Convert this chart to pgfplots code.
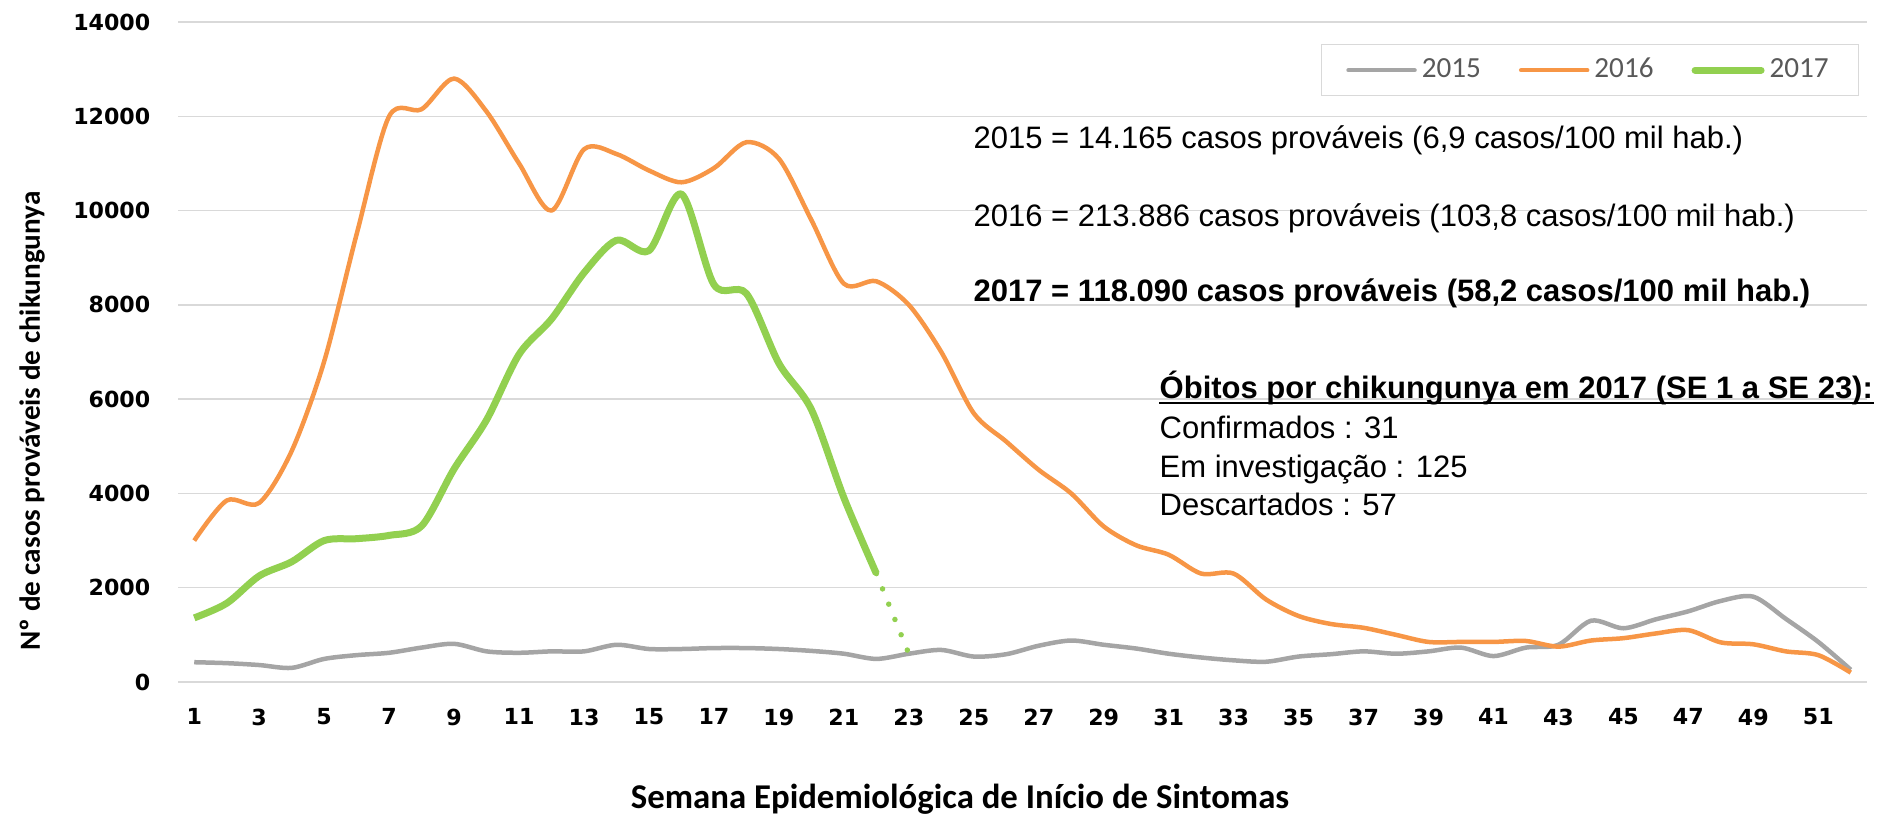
\documentclass[border=0pt]{standalone}
\usepackage{fontspec}
\setmainfont{Liberation Sans}
\newfontfamily\tickfont{DejaVu Sans}
\newfontfamily\calib{Carlito}
\usepackage{pgfplots}
\pgfplotsset{compat=1.18}

\definecolor{c15}{RGB}{165,165,165}
\definecolor{c16}{RGB}{247,150,70}
\definecolor{c17}{RGB}{146,208,80}
\definecolor{gridc}{RGB}{217,217,217}
\definecolor{legtxt}{RGB}{89,89,89}

\begin{document}
\begin{tikzpicture}
\useasboundingbox (0,0) rectangle (18.97,-8.14);
\begin{axis}[
  at={(1.78cm,-6.82cm)}, anchor=south west,
  scale only axis, width=16.89cm, height=6.60cm,
  xmin=0.5, xmax=52.5, ymin=0, ymax=14000,
  scaled y ticks=false,
  xtick={1,3,...,51},
  xticklabels={1,3,5,7,9,11,13,15,17,19,21,23,25,27,29,31,33,35,37,39,41,43,45,47,49,51},
  ytick={0,2000,4000,6000,8000,10000,12000,14000},
  yticklabels={0,2000,4000,6000,8000,10000,12000,14000},
  ymajorgrids, major grid style={gridc, line width=0.015cm},
  axis line style={draw=none}, major tick length=0pt,
  tick label style={font=\tickfont\bfseries\fontsize{6.3}{7}\selectfont, inner sep=0pt},
  yticklabel style={anchor=east, xshift=-0.27cm},
  xticklabel style={anchor=north, yshift=-0.26cm},
  legend style={at={(0.836,0.927)}, anchor=center, draw=gridc,
    font=\calib\fontsize{8.3}{10}\selectfont, text=legtxt,
    inner xsep=0.25cm, inner ysep=0.08cm,
    /tikz/every even column/.append style={column sep=0.33cm},
    nodes={inner sep=0.05cm}},
  legend columns=3,
  legend image code/.code={\draw[#1, line cap=round] (0cm,0cm) -- (0.66cm,0cm);},
]
% 2015
\addplot[c15, line width=0.045cm, smooth, line join=round] coordinates {
(1,420)(2,400)(3,360)(4,300)(5,490)(6,570)(7,620)(8,730)(9,810)(10,650)
(11,620)(12,650)(13,650)(14,790)(15,700)(16,700)(17,720)(18,720)(19,700)(20,660)
(21,600)(22,490)(23,600)(24,680)(25,540)(26,590)(27,770)(28,880)(29,790)(30,710)
(31,600)(32,520)(33,460)(34,430)(35,540)(36,590)(37,650)(38,600)(39,650)(40,730)
(41,550)(42,730)(43,790)(44,1300)(45,1140)(46,1330)(47,1500)(48,1720)(49,1810)(50,1340)
(51,850)(52,260)};
\addlegendentry{2015}
% 2016
\addplot[c16, line width=0.045cm, smooth, line join=round] coordinates {
(1,3000)(2,3850)(3,3800)(4,4900)(5,6800)(6,9500)(7,12000)(8,12150)(9,12800)(10,12100)
(11,11000)(12,10000)(13,11300)(14,11200)(15,10850)(16,10600)(17,10900)(18,11450)(19,11100)(20,9800)
(21,8450)(22,8500)(23,8000)(24,7000)(25,5700)(26,5100)(27,4500)(28,4000)(29,3300)(30,2900)
(31,2700)(32,2300)(33,2300)(34,1750)(35,1400)(36,1230)(37,1150)(38,1000)(39,850)(40,850)
(41,850)(42,870)(43,750)(44,880)(45,930)(46,1030)(47,1100)(48,840)(49,800)(50,650)
(51,570)(52,200)};
\addlegendentry{2016}
% 2017
\addplot[c17, line width=0.07cm, smooth, line join=round] coordinates {
(1,1360)(2,1670)(3,2250)(4,2550)(5,3000)(6,3040)(7,3110)(8,3310)(9,4520)(10,5560)
(11,6950)(12,7700)(13,8680)(14,9370)(15,9150)(16,10350)(17,8430)(18,8240)(19,6760)(20,5780)
(21,3910)(22,2300)};
\addlegendentry{2017}
\addplot[c17, line width=0.055cm, line cap=round, dash pattern=on 0pt off 0.165cm, forget plot]
  coordinates {(22,2300)(23,600)};
\end{axis}

\begin{scope}[every node/.style={anchor=base west, inner sep=0pt, font=\fontsize{8.82}{10}\selectfont}]
\node at (9.73,-1.48) {2015 = 14.165 casos prováveis (6,9 casos/100 mil hab.)};
\node at (9.73,-2.26) {2016 = 213.886 casos prováveis (103,8 casos/100 mil hab.)};
\node at (9.73,-3.01) {\bfseries 2017 = 118.090 casos prováveis (58,2 casos/100 mil hab.)};
\node (ob) at (11.59,-3.98) {\bfseries Óbitos por chikungunya em 2017 (SE 1 a SE 23):};
\node at (11.59,-4.38) {Confirmados : 31};
\node at (11.59,-4.77) {Em investigação : 125};
\node at (11.59,-5.15) {Descartados : 57};
\end{scope}
\draw[line width=0.02cm] ([yshift=-0.045cm]ob.base west) -- ([yshift=-0.045cm]ob.base east);

\node[anchor=base, inner sep=0pt, font=\calib\bfseries\fontsize{9.9}{12}\selectfont] at (9.60,-8.08) {Semana Epidemiológica de Início de Sintomas};
\node[rotate=90, inner sep=0pt, font=\calib\bfseries\fontsize{8.3}{10}\selectfont] at (0.32,-4.21) {Nº de casos prováveis de chikungunya};
\end{tikzpicture}
\end{document}
